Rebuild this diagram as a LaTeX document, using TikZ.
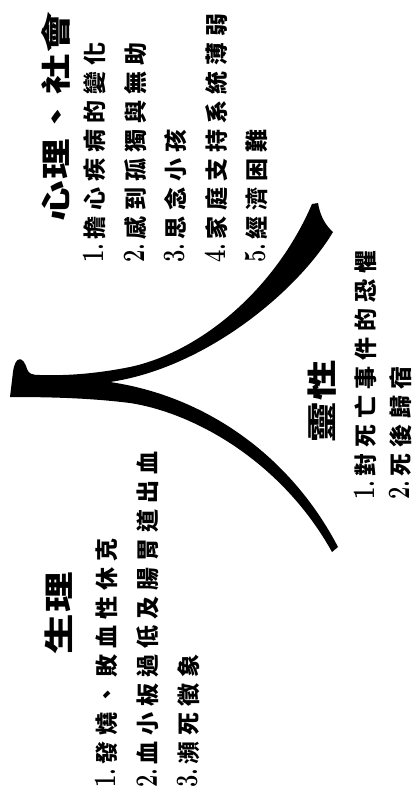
\documentclass[tikz,border=0pt]{standalone}
\usepackage{fontspec}
\usepackage{graphicx}
\newfontfamily\cjk{Noto Sans CJK TC}[LetterSpace=26]
\newfontfamily\cjktitle{Noto Sans CJK TC}[FakeStretch=1.35,LetterSpace=6]
\newcommand{\itemno}[1]{\scalebox{0.95}[1.35]{\rmfamily\bfseries #1.}\hspace{4pt}}

\begin{document}
\begin{tikzpicture}[x=1pt, y=-1pt,
  titlenode/.style={rotate=90, anchor=west, inner sep=0pt,
                    font=\fontsize{30}{32}\selectfont\cjktitle\bfseries},
  itemnode/.style={rotate=90, anchor=west, inner sep=0pt,
                   font=\fontsize{23}{26}\selectfont\cjk\bfseries},
  forkshape/.style={fill=black, draw=none}
]
  \useasboundingbox (0,0) rectangle (415,797);

  % the forked stroke
  \fill[forkshape] (10,397) -- (13,372)
    .. controls (15,356) and (23,355) .. (27,369)
    .. controls (29,374) and (32,375) .. (40,375)
    .. controls (70,376) and (100,373) .. (130,367)
    .. controls (200,352) and (275,290) .. (312,204)
    -- (318,203)
    .. controls (320,216) and (326,226) .. (333,232)
    .. controls (297,292) and (205,368) .. (110,382)
    .. controls (205,396) and (290,455) .. (338,547)
    -- (332,552)
    .. controls (282,462) and (195,413) .. (130,403)
    .. controls (90,398) and (50,397) .. (10,397) -- cycle;

  % psychological / social
  \node[titlenode] (psyTitle) at (56,222) {心理、社會};
  \node[itemnode] (psy1) at (94,263)  {\itemno{1}擔心疾病的變化};
  \node[itemnode] (psy2) at (135,263) {\itemno{2}感到孤獨與無助};
  \node[itemnode] (psy3) at (175,263) {\itemno{3}思念小孩};
  \node[itemnode] (psy4) at (216,263) {\itemno{4}家庭支持系統薄弱};
  \node[itemnode] (psy5) at (256,263) {\itemno{5}經濟困難};

  % spiritual
  \node[titlenode] (spiTitle) at (322,443) {靈性};
  \node[itemnode] (spi1) at (365,500) {\itemno{1}對死亡事件的恐懼};
  \node[itemnode] (spi2) at (400,500) {\itemno{2}死後歸宿};

  % physical
  \node[titlenode] (phyTitle) at (59,655) {生理};
  \node[itemnode] (phy1) at (106,788) {\itemno{1}發燒、敗血性休克};
  \node[itemnode] (phy2) at (148,788) {\itemno{2}血小板過低及腸胃道出血};
  \node[itemnode] (phy3) at (188,788) {\itemno{3}瀕死徵象};
\end{tikzpicture}
\end{document}
